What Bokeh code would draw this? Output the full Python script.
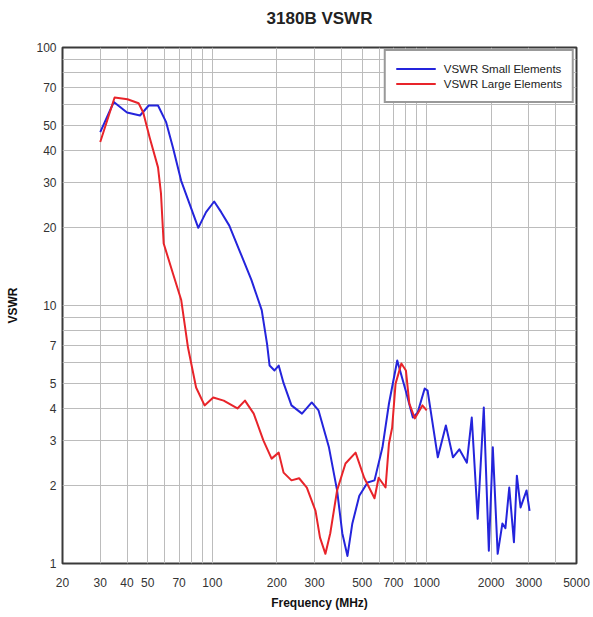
from bokeh.plotting import figure
from bokeh.models import FixedTicker, NumeralTickFormatter, Legend, LegendItem, Title
from bokeh.embed import file_html
from bokeh.resources import INLINE

# ---- data ----
freq_small = [30, 34.7, 40, 46, 50.5, 55.8, 60.8, 65.5, 71.5, 78, 86, 93.5, 102, 110, 120,
              134, 152, 170, 180, 185, 195, 204, 215, 234, 262, 291, 313, 350, 382, 404,
              427, 450, 485, 530, 571, 622, 667, 729, 798, 862, 907, 979, 1010, 1127, 1229,
              1326, 1420, 1540, 1623, 1730, 1847, 1950, 2035, 2144, 2256, 2330, 2428, 2553,
              2635, 2742, 2924, 3020]
vswr_small = [47, 61.5, 56, 54.5, 59.6, 59.6, 51.5, 41, 30.5, 25, 20, 23, 25.3, 23, 20.4,
              16.3, 12.6, 9.6, 7.1, 5.85, 5.6, 5.85, 5.0, 4.1, 3.81, 4.21, 3.92, 2.82, 1.92, 1.31,
              1.07, 1.43, 1.83, 2.06, 2.1, 2.82, 4.17, 6.12, 4.68, 3.68, 3.84, 4.77, 4.68, 2.58, 3.43,
              2.58, 2.77, 2.46, 3.68, 1.49, 4.02, 1.12, 2.82, 1.09, 1.43, 1.37, 1.97, 1.21,
              2.19, 1.65, 1.92, 1.60]

freq_large = [30, 35, 40.2, 45.3, 47.6, 51, 55.8, 57.6, 59.3, 65.5, 71.6, 77, 84, 92, 101,
              113, 131, 142, 156, 173, 189, 204, 215, 234, 254, 276, 303, 318, 337, 355,
              382, 418, 466, 511, 571, 597, 643, 667, 690, 716, 762, 800, 830, 880, 955, 1000]
vswr_large = [43, 64, 63, 60.8, 56, 44.8, 34.3, 27.2, 17.4, 13.3, 10.5, 6.87, 4.81, 4.1, 4.4,
              4.28, 3.99, 4.28, 3.81, 3.0, 2.55, 2.69, 2.25, 2.1, 2.14, 1.97, 1.6, 1.26, 1.09, 1.31,
              1.92, 2.44, 2.69, 2.15, 1.79, 2.15, 1.97, 2.92, 3.36, 4.98, 5.96, 5.6, 4.17, 3.65, 4.1, 3.92]

x_tick_labels = [20, 30, 40, 50, 70, 100, 200, 300, 500, 700, 1000, 2000, 3000, 5000]
y_tick_labels = [1, 2, 3, 4, 5, 7, 10, 20, 30, 40, 50, 70, 100]
x_grid_vals = [20, 30, 40, 50, 60, 70, 80, 90, 100, 200, 300, 400, 500, 600, 700, 800, 900,
               1000, 2000, 3000, 4000, 5000]
y_grid_vals = [1, 2, 3, 4, 5, 6, 7, 8, 9, 10, 20, 30, 40, 50, 60, 70, 80, 90, 100]

FONT = "Liberation Sans"

FW, FH = 514, 516
p = figure(x_axis_type="log", y_axis_type="log", x_range=(20, 5000), y_range=(1, 100),
           frame_width=FW, frame_height=FH, min_border_left=62, min_border_right=17,
           min_border_top=47, min_border_bottom=54, output_backend="svg",
           toolbar_location=None, background_fill_color="white", border_fill_color="white")

# spacer panel next to the frame, then the chart title above it
p.add_layout(Title(text=" ", text_font=FONT, text_font_size="14px", standoff=0), "above")
p.add_layout(Title(text="3180B VSWR", align="center", text_font=FONT,
                   text_font_size="17px", text_font_style="bold", text_color="#222222",
                   standoff=4), "above")

p.outline_line_color = "#3a3a3a"
p.outline_line_width = 2

for ax, ticks in ((p.xaxis[0], x_tick_labels), (p.yaxis[0], y_tick_labels)):
    ax.ticker = FixedTicker(ticks=ticks, minor_ticks=[])
    ax.formatter = NumeralTickFormatter(format="0")
    ax.major_tick_line_color = None
    ax.minor_tick_line_color = None
    ax.major_tick_out = 0
    ax.major_tick_in = 0
    ax.minor_tick_out = 0
    ax.minor_tick_in = 0
    ax.axis_line_color = None
    ax.major_label_text_font = FONT
    ax.major_label_text_font_size = "12px"
    ax.major_label_text_color = "#333333"
    ax.axis_label_text_font = FONT
    ax.axis_label_text_font_size = "12px"
    ax.axis_label_text_font_style = "bold"
    ax.axis_label_text_color = "#111111"

p.xaxis.axis_label = "Frequency (MHz)"
p.yaxis.axis_label = "VSWR"
p.xaxis.major_label_standoff = 14
p.xaxis.axis_label_standoff = 6
p.yaxis.major_label_standoff = 6
p.yaxis.axis_label_standoff = 13

p.xgrid.ticker = FixedTicker(ticks=x_grid_vals, minor_ticks=[])
p.ygrid.ticker = FixedTicker(ticks=y_grid_vals, minor_ticks=[])
p.xgrid.grid_line_color = "#bcbcbc"
p.ygrid.grid_line_color = "#bcbcbc"
p.xgrid.grid_line_width = 1
p.ygrid.grid_line_width = 1

r_small = p.line(freq_small, vswr_small, line_color="#2424dc", line_width=2, line_join="round")
r_large = p.line(freq_large, vswr_large, line_color="#e8242a", line_width=2, line_join="round")

legend = Legend(items=[LegendItem(label="VSWR Small Elements", renderers=[r_small]),
                       LegendItem(label="VSWR Large Elements", renderers=[r_large])],
                location="top_right", margin=2, padding=10, spacing=0,
                glyph_width=40, glyph_height=15, label_height=15, label_standoff=8,
                label_text_font=FONT, label_text_font_size="11.5px", label_text_color="#222222",
                border_line_color="#333333", border_line_width=2,
                background_fill_color="white", background_fill_alpha=1.0)
p.add_layout(legend, "center")

open("out.html", "w").write(file_html(p, INLINE))
